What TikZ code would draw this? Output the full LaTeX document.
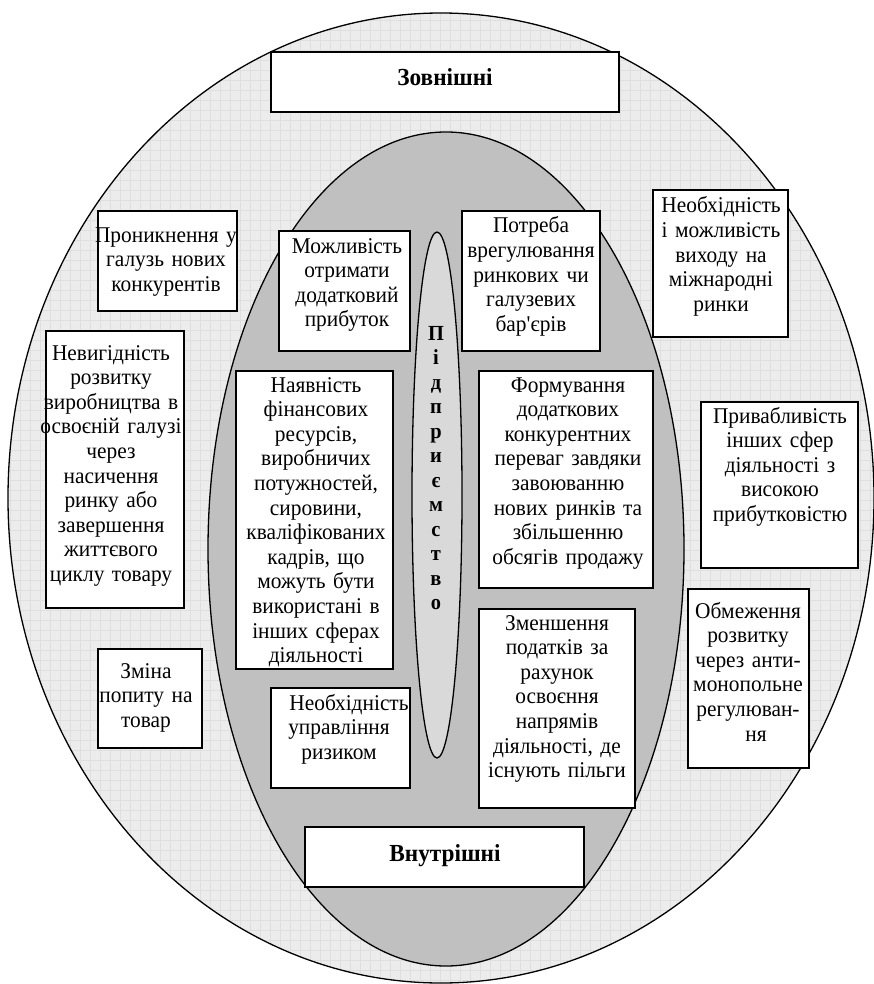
\documentclass[tikz,border=0pt]{standalone}
\usepackage{fontspec}
\setmainfont{Liberation Serif}[FakeStretch=0.95]
\definecolor{outerfill}{RGB}{236,236,236}
\definecolor{gridline}{RGB}{223,223,223}
\definecolor{innerfill}{RGB}{192,192,192}
\definecolor{corefill}{RGB}{217,217,217}
% a white factor box given by its corners (x1,y1) and (x2,y2)
\newcommand{\factorbox}[5]{%
  \node[box, minimum width={#4-#2}, minimum height={#5-#3}] (#1)
    at ({(#2+#4)/2},{(#3+#5)/2}) {};}
\begin{document}
\begin{tikzpicture}[x=1pt,y=-1pt,
  box/.style={draw=black, line width=1.5pt, fill=white, inner sep=0pt,
    preaction={fill=black, transform canvas={xshift=1.4pt, yshift=-1.4pt}}},
  txt/.style={align=center, text width=190pt, inner sep=0pt, anchor=base,
    font=\fontsize{22.5}{24.6}\selectfont},
  ttl/.style={txt, font=\fontsize{24.5}{24.6}\selectfont\bfseries},
  rim/.style={draw=black, line width=1.3pt}]
\useasboundingbox (0,0) rectangle (874,984);

% outer field with its fine grid
\begin{scope}
  \clip (441,498) ellipse [x radius=433, y radius=485];
  \fill[outerfill] (0,0) rectangle (874,984);
  \foreach \gx in {0,10,...,870} \draw[gridline, line width=0.6pt] (\gx,0) -- (\gx,984);
  \foreach \gy in {0,10,...,980} \draw[gridline, line width=0.6pt] (0,\gy) -- (874,\gy);
\end{scope}
\draw[rim] (441,498) ellipse [x radius=433, y radius=485];

% inner field
\draw[rim, fill=innerfill] (446,549) ellipse [x radius=238, y radius=417];

% core ellipse
\draw[rim, fill=corefill] (437,495) ellipse [x radius=25, y radius=263];

% boxes
\factorbox{b1}{271}{52}{619}{112}
\factorbox{b2}{98}{211}{237}{311}
\factorbox{b3}{279}{231}{410}{351}
\factorbox{b4}{462}{211}{600}{351}
\factorbox{b5}{653}{190}{788}{337}
\factorbox{b6}{46}{331}{184}{608}
\factorbox{b7}{236}{371}{393}{669}
\factorbox{b8}{479}{371}{653}{588}
\factorbox{b9}{701}{402}{858}{568}
\factorbox{b10}{688}{589}{809}{768}
\factorbox{b11}{479}{609}{635}{808}
\factorbox{b12}{98}{649}{202}{748}
\factorbox{b13}{271}{688}{410}{788}
\factorbox{b14}{305}{827}{584}{887}

% texts
\node[ttl] (t1) at (445,86) {Зовнішні};
\node[txt] (t2) at (166,242) {Проникнення у\\галузь нових\\конкурентів};
\node[txt] (t3) at (347,253) {Можливість\\отримати\\додатковий\\прибуток};
\node[txt] (t4) at (531,233) {Потреба\\врегулювання\\ринкових чи\\галузевих\\бар\textquotesingle єрів};
\node[txt] (t5) at (721,213) {Необхідність\\і можливість\\виходу на\\міжнародні\\ринки};
\node[txt] (t6) at (111,360) {Невигідність\\розвитку\\виробництва в\\освоєній галузі\\через\\насичення\\ринку або\\завершення\\життєвого\\циклу товару};
\node[txt] (t7) at (316,392) {Наявність\\фінансових\\ресурсів,\\виробничих\\потужностей,\\сировини,\\кваліфікованих\\кадрів, що\\можуть бути\\використані в\\інших сферах\\діяльності};
\node[txt] (t8) at (568,392) {Формування\\додаткових\\конкурентних\\переваг завдяки\\завоюванню\\нових ринків та\\збільшенню\\обсягів продажу};
\node[txt] (t9) at (780,423) {Привабливість\\інших сфер\\діяльності з\\високою\\прибутковістю};
\node[txt] (t10) at (748,618) {Обмеження\\розвитку\\через анти-\\монопольне\\регулюван-\\\hspace*{16pt}ня};
\node[txt] (t11) at (557,630) {Зменшення\\податків за\\рахунок\\освоєння\\напрямів\\діяльності, де\\існують пільги};
\node[txt] (t12) at (146,678) {Зміна\\попиту на\\товар};
\node[txt] (t13) at (339,710) {\hspace*{20pt}Необхідність\\управління\\ризиком};
\node[ttl] (t14) at (445,861) {Внутрішні};

% vertical title in the core
\node[ttl, text width=30pt, font=\fontsize{21.5}{24.5}\selectfont\bfseries] (core) at (436,340)
  {П\\і\\д\\п\\р\\и\\є\\м\\с\\т\\в\\о};
\end{tikzpicture}
\end{document}
